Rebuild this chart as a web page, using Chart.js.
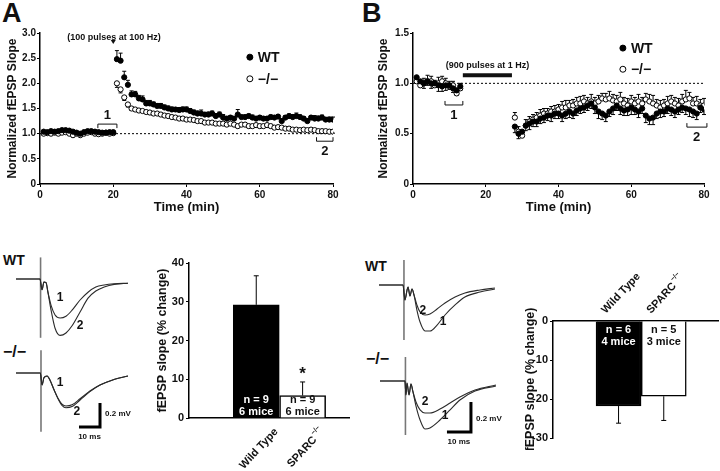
<!DOCTYPE html>
<html>
<head>
<meta charset="utf-8">
<script src="https://cdn.jsdelivr.net/npm/chart.js@4.4.1/dist/chart.umd.min.js"></script>
<style>
  body { margin: 0; width: 720px; height: 471px; overflow: hidden; position: relative; background: #fff;
         font-family: "Liberation Sans", Arial, sans-serif; }
  canvas { position: absolute; }
  .lbl { position: absolute; font-weight: bold; color: #111; line-height: 1; white-space: nowrap; }
</style>
</head>
<body>
<div class="lbl" style="left:2px;top:0px;font-size:27px">A</div>
<div class="lbl" style="left:362px;top:0px;font-size:27px">B</div>
<div class="lbl" style="left:3px;top:253px;font-size:14px">WT</div>
<div class="lbl" style="left:3px;top:344px;font-size:16px">−/−</div>
<div class="lbl" style="left:365px;top:259px;font-size:14px">WT</div>
<div class="lbl" style="left:366px;top:351px;font-size:16px">−/−</div>

<canvas id="ltpTime" width="360" height="200" style="left:0;top:20px"></canvas>
<canvas id="ltdTime" width="360" height="200" style="left:360px;top:20px"></canvas>
<canvas id="trAwt" width="125" height="95" style="left:16px;top:250px"></canvas>
<canvas id="trAko" width="125" height="95" style="left:16px;top:345px"></canvas>
<canvas id="ltpBar" width="220" height="231" style="left:140px;top:240px"></canvas>
<canvas id="trBwt" width="130" height="95" style="left:379px;top:255px"></canvas>
<canvas id="trBko" width="130" height="100" style="left:380px;top:350px"></canvas>
<canvas id="ltdBar" width="215" height="200" style="left:505px;top:250px"></canvas>

<script>
// ---- panel A time course (normalized fEPSP slope) ----
const timeA = [1,2,3,4,5,6,7,8,9,10,11,12,13,14,15,16,17,18,19,20,
  21,22,23,24,25,26,27,28,29,30,31,32,33,34,35,36,37,38,39,40,
  41,42,43,44,45,46,47,48,49,50,51,52,53,54,55,56,57,58,59,60,
  61,62,63,64,65,66,67,68,69,70,71,72,73,74,75,76,77,78,79,80];
const wtA = [1.04,1.03,1.05,1.04,1.05,1.07,1.07,1.06,1.04,1.02,1.00,1.03,1.05,1.05,1.04,1.03,1.02,1.02,1.03,1.03,
  2.48,2.45,2.12,1.97,1.78,1.78,1.70,1.68,1.60,1.60,1.58,1.55,1.55,1.52,1.50,1.48,1.48,1.47,1.48,1.48,
  1.45,1.42,1.40,1.40,1.38,1.38,1.40,1.35,1.38,1.32,1.30,1.32,1.30,1.38,1.33,1.33,1.35,1.32,1.30,1.32,
  1.30,1.30,1.33,1.32,1.34,1.25,1.32,1.35,1.33,1.35,1.33,1.30,1.25,1.32,1.30,1.30,1.32,1.28,1.28,1.28];
const wtAErr = [0.02,0.02,0.02,0.02,0.02,0.02,0.02,0.02,0.02,0.02,0.02,0.02,0.02,0.02,0.02,0.02,0.02,0.02,0.02,0.02,
  0.17,0.15,0.12,0.09,0.07,0.06,0.06,0.07,0.06,0.06,0.05,0.05,0.05,0.05,0.05,0.05,0.04,0.05,0.05,0.05,
  0.05,0.05,0.05,0.07,0.04,0.05,0.05,0.05,0.05,0.06,0.04,0.04,0.04,0.10,0.04,0.04,0.04,0.05,0.04,0.04,
  0.04,0.04,0.04,0.04,0.04,0.05,0.04,0.04,0.05,0.06,0.04,0.04,0.05,0.04,0.06,0.05,0.05,0.04,0.05,0.05];
const koA = [1.00,1.01,1.00,1.02,1.00,1.02,1.03,1.00,0.97,1.00,0.97,1.00,1.02,1.03,1.00,0.99,1.00,1.02,1.00,1.01,
  2.00,1.88,1.72,1.58,1.50,1.48,1.46,1.45,1.43,1.42,1.40,1.40,1.38,1.36,1.35,1.33,1.32,1.30,1.30,1.28,
  1.28,1.27,1.25,1.25,1.22,1.22,1.22,1.20,1.20,1.20,1.18,1.20,1.18,1.15,1.18,1.18,1.15,1.15,1.17,1.15,
  1.15,1.17,1.15,1.12,1.13,1.12,1.10,1.10,1.08,1.08,1.07,1.08,1.07,1.08,1.07,1.05,1.05,1.05,1.04,1.04];
const koAErr = [0.02,0.02,0.02,0.02,0.02,0.02,0.02,0.02,0.02,0.02,0.02,0.02,0.02,0.02,0.02,0.02,0.02,0.02,0.02,0.02,
  0.08,0.07,0.06,0.05,0.04,0.04,0.04,0.03,0.03,0.03,0.03,0.03,0.03,0.03,0.03,0.03,0.03,0.03,0.03,0.03,
  0.03,0.03,0.03,0.03,0.03,0.03,0.03,0.03,0.03,0.03,0.03,0.03,0.03,0.03,0.03,0.03,0.03,0.03,0.03,0.03,
  0.03,0.03,0.03,0.03,0.03,0.03,0.03,0.03,0.03,0.03,0.03,0.03,0.03,0.03,0.03,0.03,0.03,0.03,0.03,0.03];

// ---- panel B time course ----
const timeB = [1,2,3,4,5,6,7,8,9,10,11,12,13,
  28,29,30,31,32,33,34,35,36,37,38,39,40,41,42,43,44,45,46,47,48,49,50,51,52,53,54,
  55,56,57,58,59,60,61,62,63,64,65,66,67,68,69,70,71,72,73,74,75,76,77,78,79,80];
const wtB = [1.06,1.02,1.00,1.02,1.00,1.00,0.98,0.97,0.98,0.98,0.95,0.93,0.97,
  0.57,0.50,0.52,0.58,0.60,0.62,0.62,0.65,0.66,0.68,0.68,0.70,0.70,0.68,0.70,0.72,0.70,0.73,0.75,0.76,0.78,0.80,0.76,0.72,0.70,0.68,0.72,
  0.75,0.78,0.75,0.73,0.74,0.76,0.74,0.72,0.75,0.68,0.65,0.66,0.70,0.72,0.72,0.75,0.74,0.72,0.74,0.76,0.75,0.74,0.72,0.70,0.76,0.74];
const wtBErr = [0.04,0.04,0.05,0.04,0.05,0.04,0.06,0.05,0.05,0.04,0.04,0.05,0.04,
  0.06,0.05,0.05,0.05,0.06,0.05,0.05,0.05,0.05,0.05,0.06,0.05,0.05,0.06,0.05,0.06,0.05,0.05,0.05,0.05,0.05,0.05,0.06,0.07,0.06,0.06,0.05,
  0.06,0.05,0.06,0.05,0.06,0.07,0.05,0.06,0.05,0.07,0.06,0.07,0.05,0.06,0.05,0.05,0.06,0.06,0.05,0.05,0.06,0.07,0.06,0.06,0.05,0.05];
const koB = [1.02,0.98,1.00,1.02,1.02,0.98,1.00,1.02,1.00,0.97,0.98,0.90,0.95,
  0.66,0.52,0.48,0.58,0.62,0.64,0.66,0.68,0.70,0.70,0.72,0.72,0.74,0.76,0.76,0.78,0.78,0.80,0.80,0.82,0.80,0.82,0.80,0.82,0.85,0.84,0.85,
  0.83,0.82,0.84,0.80,0.78,0.82,0.80,0.82,0.80,0.84,0.82,0.80,0.78,0.76,0.78,0.80,0.82,0.80,0.78,0.82,0.84,0.85,0.80,0.80,0.78,0.78];
const koBErr = [0.04,0.05,0.05,0.06,0.05,0.05,0.06,0.05,0.05,0.05,0.04,0.05,0.05,
  0.05,0.05,0.05,0.06,0.05,0.05,0.05,0.06,0.05,0.05,0.05,0.06,0.05,0.06,0.07,0.05,0.06,0.06,0.07,0.06,0.06,0.07,0.06,0.06,0.05,0.06,0.07,
  0.06,0.06,0.07,0.06,0.07,0.06,0.06,0.07,0.06,0.06,0.07,0.08,0.06,0.07,0.06,0.07,0.06,0.06,0.07,0.07,0.09,0.06,0.06,0.07,0.06,0.07];

// ---- bar summaries (% change of fEPSP slope) ----
const groups = ['Wild Type', 'SPARC'];
const groupSup = ['', '−/−'];
const ltpChange = [29.2, 5.8];
const ltpErr = [7.5, 3.5];
const ltpN = ['n = 9', 'n = 9'];
const ltpMice = ['6 mice', '6 mice'];
const ltdChange = [-21.8, -19.3];
const ltdErr = [4.4, 6.2];
const ltdN = ['n = 6', 'n = 5'];
const ltdMice = ['4 mice', '3 mice'];

// ---- sample traces (time in ms, voltage in mV relative to baseline) ----
const trAwtT  = [0,11.4,12.4,13.3,14.3,15.2,16.7,18.6,21,23.8,26.7,30.5,34.3,38,42,46.7,53.3];
const trAwt1  = [0,0,-0.09,-0.025,-0.03,-0.11,-0.22,-0.30,-0.325,-0.31,-0.26,-0.175,-0.11,-0.067,-0.05,-0.04,-0.035];
const trAwt2  = [0,0,-0.09,-0.025,-0.03,-0.11,-0.26,-0.41,-0.47,-0.45,-0.39,-0.275,-0.16,-0.10,-0.067,-0.045,-0.035];
const trAkoT  = [0,11.6,12.4,13.3,14.8,16.2,18.1,20,21.9,23.8,26.7,30.5,35.2,40,45.7,53.3];
const trAko1  = [0,0,-0.10,-0.04,-0.025,-0.06,-0.14,-0.21,-0.26,-0.275,-0.265,-0.215,-0.15,-0.10,-0.06,-0.025];
const trAko2  = [0,0,-0.10,-0.04,-0.025,-0.06,-0.14,-0.215,-0.27,-0.29,-0.28,-0.225,-0.155,-0.10,-0.06,-0.025];
const trBwtT  = [0,10,10.8,11.7,12.1,12.9,13.75,14.6,15.8,17.1,19.2,21.25,24.2,27.5,31.7,35.8,42.1,48.3];
const trBwt1  = [0,0,-0.10,-0.033,-0.013,-0.073,-0.027,-0.067,-0.167,-0.247,-0.307,-0.307,-0.267,-0.20,-0.133,-0.08,-0.047,-0.027];
const trBwt2  = [0,0,-0.10,-0.033,-0.013,-0.073,-0.027,-0.067,-0.133,-0.18,-0.20,-0.193,-0.16,-0.12,-0.08,-0.053,-0.033,-0.02];
const trBkoT  = [0,10.4,10.8,11.25,12.1,12.9,13.75,15,16.7,18.75,20.8,25,29.2,33.3,39.6,48.3];
const trBko1  = [0,0,-0.093,-0.013,-0.093,-0.02,-0.073,-0.167,-0.26,-0.32,-0.313,-0.26,-0.193,-0.127,-0.067,-0.033];
const trBko2  = [0,0,-0.093,-0.013,-0.093,-0.02,-0.073,-0.14,-0.193,-0.213,-0.213,-0.187,-0.147,-0.107,-0.06,-0.027];

const FONT = '"Liberation Sans", Arial, sans-serif';
Chart.defaults.font.family = FONT;
Chart.defaults.font.weight = 'bold';
Chart.defaults.color = '#111';

const pts = (xs, ys) => xs.map((x, i) => ({ x: x, y: ys[i] }));

// error bars for the time course points
const errorBars = {
  id: 'errorBars',
  beforeDatasetsDraw(chart) {
    const { ctx, scales: { x, y } } = chart;
    chart.data.datasets.forEach(ds => {
      if (!ds.errors) return;
      ctx.save();
      ctx.strokeStyle = '#000';
      ctx.lineWidth = 1;
      ds.data.forEach((p, i) => {
        const e = ds.errors[i];
        if (!e) return;
        const px = x.getPixelForValue(p.x);
        const y0 = y.getPixelForValue(p.y);
        const y1 = y.getPixelForValue(p.y + ds.errDir * e);
        ctx.beginPath();
        ctx.moveTo(px, y0); ctx.lineTo(px, y1);
        ctx.moveTo(px - 2, y1); ctx.lineTo(px + 2, y1);
        ctx.stroke();
      });
      ctx.restore();
    });
  }
};

// annotations: labels, brackets, stimulus bar, legend
const notes = {
  id: 'notes',
  afterDatasetsDraw(chart, args, o) {
    const { ctx, scales: { x, y } } = chart;
    const px = v => x.getPixelForValue(v), py = v => y.getPixelForValue(v);
    ctx.save();
    ctx.fillStyle = '#111';
    ctx.strokeStyle = '#111';
    (o.brackets || []).forEach(b => {
      ctx.lineWidth = 1;
      ctx.beginPath();
      ctx.moveTo(px(b.x1), py(b.y) + b.tick);
      ctx.lineTo(px(b.x1), py(b.y));
      ctx.lineTo(px(b.x2), py(b.y));
      ctx.lineTo(px(b.x2), py(b.y) + b.tick);
      ctx.stroke();
    });
    (o.bars || []).forEach(b => {
      ctx.lineWidth = b.w;
      ctx.beginPath();
      ctx.moveTo(px(b.x1), py(b.y));
      ctx.lineTo(px(b.x2), py(b.y));
      ctx.stroke();
    });
    (o.marks || []).forEach(m => {
      const cx = px(m.x), cy = py(m.y);
      ctx.beginPath();
      ctx.moveTo(cx - 2.5, cy - 2); ctx.lineTo(cx + 2.5, cy - 2); ctx.lineTo(cx, cy + 2);
      ctx.closePath(); ctx.fill();
    });
    (o.texts || []).forEach(t => {
      ctx.font = 'bold ' + t.size + 'px ' + FONT;
      ctx.textAlign = t.align || 'center';
      ctx.textBaseline = 'middle';
      ctx.fillText(t.text, px(t.x) + (t.dx || 0), py(t.y) + (t.dy || 0));
    });
    (o.legend || []).forEach(l => {
      const cx = px(l.x), cy = py(l.y);
      ctx.beginPath();
      ctx.arc(cx, cy, 3, 0, Math.PI * 2);
      ctx.fillStyle = l.filled ? '#000' : '#fff';
      ctx.fill();
      ctx.lineWidth = 1; ctx.strokeStyle = '#000'; ctx.stroke();
      ctx.fillStyle = '#111';
      ctx.font = 'bold 14px ' + FONT;
      ctx.textAlign = 'left'; ctx.textBaseline = 'middle';
      ctx.fillText(l.text, cx + 8, cy + 1);
    });
    ctx.restore();
  }
};

function timeChart(id, o) {
  const axisCommon = {
    grid: { drawOnChartArea: false, tickLength: 3, color: '#000', lineWidth: 1 },
    border: { color: '#000', width: 1.5 }
  };
  return new Chart(document.getElementById(id), {
    type: 'scatter',
    data: {
      datasets: [
        { type: 'line', data: [{ x: 0, y: 1 }, { x: 80, y: 1 }], showLine: true, borderColor: '#000',
          borderWidth: 1, borderDash: [2, 2], pointRadius: 0, order: 3 },
        { label: '−/−', data: pts(o.times, o.ko), errors: o.koErr, errDir: o.koDir,
          backgroundColor: '#fff', borderColor: '#000', borderWidth: 1, pointRadius: 2.6, order: 2 },
        { label: 'WT', data: pts(o.times, o.wt), errors: o.wtErr, errDir: o.wtDir,
          backgroundColor: '#000', borderColor: '#000', borderWidth: 1, pointRadius: 2.6, order: 1 }
      ]
    },
    options: {
      responsive: false,
      animation: false,
      layout: { padding: { left: 0, top: 13, right: o.padRight, bottom: 0 } },
      plugins: { legend: { display: false }, tooltip: { enabled: false }, notes: o.notes },
      scales: {
        x: Object.assign({
          type: 'linear', min: 0, max: 80,
          ticks: { stepSize: 20, font: { size: 10 }, padding: 2 },
          title: { display: true, text: 'Time (min)', font: { size: 13 }, padding: { top: 0, bottom: 5 } },
          afterFit: s => { s.height = 36; }
        }, axisCommon),
        y: Object.assign({
          min: 0, max: o.ymax,
          ticks: { stepSize: 0.5, font: { size: 10 }, padding: 1, callback: v => v === 0 ? '0' : v.toFixed(1) },
          title: { display: true, text: 'Normalized fEPSP Slope', font: { size: 12 }, padding: { top: o.titlePad, bottom: 0 } },
          afterFit: s => { s.width = o.yWidth; }
        }, axisCommon)
      }
    },
    plugins: [errorBars, notes]
  });
}

timeChart('ltpTime', {
  times: timeA, wt: wtA, wtErr: wtAErr, wtDir: 1, ko: koA, koErr: koAErr, koDir: -1,
  ymax: 3, yWidth: 40, titlePad: 5, padRight: 27,
  notes: {
    texts: [
      { text: '(100 pulses at 100 Hz)', x: 20.2, y: 2.92, size: 9 },
      { text: '1', x: 18.4, y: 1.19, dy: -9, size: 13 },
      { text: '2', x: 77.8, y: 0.85, dy: 10, size: 13 }
    ],
    marks: [{ x: 20, y: 2.82 }],
    brackets: [{ x1: 15.8, x2: 21, y: 1.19, tick: 4 }, { x1: 75.5, x2: 80, y: 0.85, tick: -4 }],
    legend: [{ x: 57.3, y: 2.52, filled: true, text: 'WT' }, { x: 57.3, y: 2.09, filled: false, text: '−/−' }]
  }
});

timeChart('ltdTime', {
  times: timeB, wt: wtB, wtErr: wtBErr, wtDir: -1, ko: koB, koErr: koBErr, koDir: 1,
  ymax: 1.5, yWidth: 53, titlePad: 16, padRight: 16,
  notes: {
    texts: [
      { text: '(900 pulses at 1 Hz)', x: 20.5, y: 1.18, size: 9 },
      { text: '1', x: 11.2, y: 0.785, dy: 10, size: 13 },
      { text: '2', x: 78, y: 0.565, dy: 10, size: 13 }
    ],
    bars: [{ x1: 13.7, x2: 27.2, y: 1.08, w: 4 }],
    brackets: [{ x1: 8.8, x2: 13.7, y: 0.785, tick: -4 }, { x1: 75.3, x2: 80.8, y: 0.565, tick: -4 }],
    legend: [{ x: 57.7, y: 1.35, filled: true, text: 'WT' }, { x: 57.7, y: 1.14, filled: false, text: '−/−' }]
  }
});

// ---- sample traces ----
const traceLabels = {
  id: 'traceLabels',
  afterDatasetsDraw(chart, args, o) {
    const { ctx, scales: { x, y } } = chart;
    ctx.save();
    ctx.fillStyle = '#111';
    ctx.textBaseline = 'middle';
    (o.items || []).forEach(t => {
      ctx.font = 'bold ' + t.size + 'px ' + FONT;
      ctx.textAlign = t.align || 'center';
      ctx.fillText(t.text, x.getPixelForValue(t.x), y.getPixelForValue(t.y));
    });
    ctx.restore();
  }
};

function traceChart(id, o) {
  const line = (data, color, w) => ({ data: data, borderColor: color, borderWidth: w, pointRadius: 0,
    cubicInterpolationMode: 'monotone', clip: false, fill: false });
  const ds = [
    line(pts(o.t, o.v1), '#2a2a2a', 1.1),
    line(pts(o.t, o.v2), '#2a2a2a', 1.1),
    line([{ x: o.art, y: o.artTop }, { x: o.art, y: o.artBot }], '#777', 1.6)
  ];
  if (o.scaleBar) {
    const sb = line(o.scaleBar, '#000', 3);
    sb.cubicInterpolationMode = 'default';
    sb.tension = 0;
    ds.push(sb);
  }
  return new Chart(document.getElementById(id), {
    type: 'line',
    data: { datasets: ds },
    options: {
      responsive: false,
      animation: false,
      layout: { padding: 0 },
      plugins: { legend: { display: false }, tooltip: { enabled: false }, traceLabels: { items: o.labels } },
      scales: {
        x: { type: 'linear', display: false, min: 0, max: o.xmax },
        y: { type: 'linear', display: false, min: o.ymin, max: o.ymax }
      }
    },
    plugins: [traceLabels]
  });
}

traceChart('trAwt', {
  t: trAwtT, v1: trAwt1, v2: trAwt2, art: 11.7, artTop: 0.18, artBot: -0.49,
  xmax: 59.52, ymin: -0.55, ymax: 0.2417,
  labels: [{ text: '1', x: 20.95, y: -0.158, size: 12 }, { text: '2', x: 30.5, y: -0.39, size: 12 }]
});
traceChart('trAko', {
  t: trAkoT, v1: trAko1, v2: trAko2, art: 11.9, artTop: 0.19, artBot: -0.49,
  xmax: 59.52, ymin: -0.5583, ymax: 0.2333,
  scaleBar: [{ x: 30, y: -0.45 }, { x: 40, y: -0.45 }, { x: 40, y: -0.25 }],
  labels: [
    { text: '1', x: 20.95, y: -0.083, size: 12 }, { text: '2', x: 29, y: -0.325, size: 12 },
    { text: '0.2 mV', x: 42.4, y: -0.34, size: 8, align: 'left' }, { text: '10 ms', x: 35, y: -0.53, size: 8 }
  ]
});
traceChart('trBwt', {
  t: trBwtT, v1: trBwt1, v2: trBwt2, art: 10.4, artTop: 0.167, artBot: -0.367,
  xmax: 54.17, ymin: -0.4333, ymax: 0.2,
  labels: [{ text: '2', x: 18.3, y: -0.173, size: 12 }, { text: '1', x: 26.7, y: -0.247, size: 12 }]
});
traceChart('trBko', {
  t: trBkoT, v1: trBko1, v2: trBko2, art: 10.6, artTop: 0.16, artBot: -0.36,
  xmax: 54.17, ymin: -0.46, ymax: 0.2067,
  scaleBar: [{ x: 27.9, y: -0.34 }, { x: 37.9, y: -0.34 }, { x: 37.9, y: -0.14 }],
  labels: [
    { text: '2', x: 18.75, y: -0.14, size: 12 }, { text: '1', x: 27.1, y: -0.233, size: 12 },
    { text: '0.2 mV', x: 40, y: -0.253, size: 8, align: 'left' }, { text: '10 ms', x: 32.9, y: -0.407, size: 8 }
  ]
});

// ---- bar summaries ----
const barNotes = {
  id: 'barNotes',
  afterDatasetsDraw(chart, args, o) {
    const { ctx, scales: { y } } = chart;
    const meta = chart.getDatasetMeta(0);
    const ds = chart.data.datasets[0];
    const y0 = y.getPixelForValue(0);
    ctx.save();
    meta.data.forEach((bar, i) => {
      const v = ds.data[i].y, sign = v < 0 ? -1 : 1;
      const yEnd = y.getPixelForValue(v), yErr = y.getPixelForValue(v + sign * o.err[i]);
      ctx.strokeStyle = '#000'; ctx.lineWidth = 1;
      ctx.beginPath();
      ctx.moveTo(bar.x, yEnd); ctx.lineTo(bar.x, yErr);
      ctx.moveTo(bar.x - 2.5, yErr); ctx.lineTo(bar.x + 2.5, yErr);
      ctx.stroke();

      ctx.fillStyle = i === 0 ? '#fff' : '#111';
      ctx.font = 'bold 11px ' + FONT;
      ctx.textAlign = 'center'; ctx.textBaseline = 'middle';
      ctx.fillText(o.n[i], bar.x, y0 + o.line1);
      ctx.fillText(o.mice[i], bar.x, y0 + o.line2);
      if (o.star && o.star[i]) {
        ctx.fillStyle = '#111';
        ctx.font = 'bold 17px ' + FONT;
        ctx.fillText('*', bar.x, yErr - 8);
      }

      // rotated group label
      ctx.save();
      ctx.translate(bar.x + o.lblDx, y0 + o.lblDy);
      ctx.rotate(-o.lblAngle * Math.PI / 180);
      ctx.fillStyle = '#111';
      ctx.textBaseline = 'middle';
      ctx.textAlign = 'left';
      const main = groups[i], sup = groupSup[i];
      ctx.font = 'bold 11px ' + FONT;
      const wMain = ctx.measureText(main).width;
      ctx.font = 'bold 7px ' + FONT;
      const wSup = sup ? ctx.measureText(sup).width + 1 : 0;
      const start = o.lblAlign === 'right' ? -(wMain + wSup) : 0;
      ctx.font = 'bold 11px ' + FONT;
      ctx.fillText(main, start, 0);
      if (sup) {
        ctx.font = 'bold 7px ' + FONT;
        ctx.fillText(sup, start + wMain + 1, -5);
      }
      ctx.restore();
    });
    ctx.restore();
  }
};

function barChart(id, o) {
  return new Chart(document.getElementById(id), {
    type: 'bar',
    data: {
      datasets: [{
        data: pts(o.pos, o.values),
        backgroundColor: ['#000', '#fff'],
        borderColor: '#000',
        borderWidth: 1.5,
        barThickness: o.barW
      }]
    },
    options: {
      responsive: false,
      animation: false,
      layout: { padding: o.padding },
      plugins: { legend: { display: false }, tooltip: { enabled: false }, barNotes: o.notes },
      scales: {
        x: {
          type: 'linear', position: o.xPos, min: o.xmin, max: o.xmax, offset: false,
          ticks: { display: false },
          grid: { display: false, drawTicks: false, offset: false },
          border: { color: '#000', width: 1.5 },
          afterFit: s => { s.height = o.xHeight; }
        },
        y: {
          min: o.ymin, max: o.ymax,
          ticks: { stepSize: 10, font: { size: 11 }, padding: 2 },
          grid: { drawOnChartArea: false, tickLength: 3, color: '#000' },
          border: { color: '#000', width: 1.5 },
          title: { display: true, text: 'fEPSP slope (% change)', font: { size: 12.5 }, padding: { top: o.titlePad, bottom: 0 } },
          afterFit: s => { s.width = o.yWidth; }
        }
      }
    },
    plugins: [barNotes]
  });
}

barChart('ltpBar', {
  pos: [1.5, 2.5], values: ltpChange, barW: 46, xPos: 'bottom', xmin: 0.05, xmax: 3.5,
  ymin: 0, ymax: 40, yWidth: 49, xHeight: 53, titlePad: 15,
  padding: { left: 0, top: 23, right: 11, bottom: 0 },
  notes: { err: ltpErr, n: ltpN, mice: ltpMice, line1: -18, line2: -6, star: [false, true],
           lblDx: 20, lblDy: 12, lblAngle: 47, lblAlign: 'right' }
});

barChart('ltdBar', {
  pos: [1.5, 2.5], values: ltdChange, barW: 45, xPos: 'top', xmin: 0.05, xmax: 3.7,
  ymin: -30, ymax: 0, yWidth: 48, xHeight: 71, titlePad: 18,
  padding: { left: 0, top: 0, right: 2, bottom: 12 },
  notes: { err: ltdErr, n: ltdN, mice: ltdMice, line1: 9, line2: 21,
           lblDx: -15, lblDy: -9, lblAngle: 47, lblAlign: 'left' }
});
</script>
</body>
</html>
